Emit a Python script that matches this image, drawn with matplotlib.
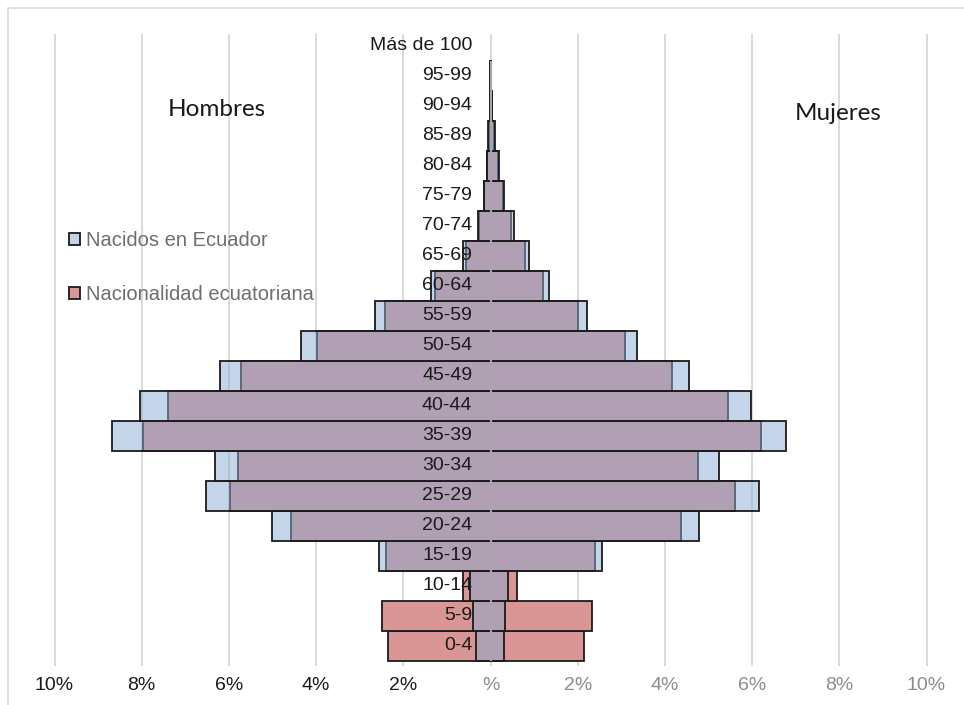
import matplotlib
matplotlib.use("Agg")
import matplotlib.pyplot as plt
from matplotlib.patches import Rectangle

# Age groups, bottom to top
age_groups = ['0-4', '5-9', '10-14', '15-19', '20-24', '25-29', '30-34',
              '35-39', '40-44', '45-49', '50-54', '55-59', '60-64', '65-69',
              '70-74', '75-79', '80-84', '85-89', '90-94', '95-99', 'Más de 100']

# Share of population (%) - born in Ecuador
men_born = [0.33, 0.40, 0.47, 2.55, 5.01, 6.53, 6.32, 8.67, 8.04, 6.21, 4.34,
            2.65, 1.37, 0.64, 0.28, 0.16, 0.09, 0.05, 0.02, 0.01, 0.0]
women_born = [0.31, 0.33, 0.41, 2.56, 4.78, 6.16, 5.25, 6.77, 5.97, 4.55, 3.37,
              2.22, 1.34, 0.88, 0.55, 0.32, 0.19, 0.10, 0.04, 0.015, 0.0]

# Share of population (%) - Ecuadorian nationality
men_nat = [2.35, 2.48, 0.63, 2.39, 4.58, 5.97, 5.78, 7.98, 7.40, 5.72, 3.99,
           2.42, 1.27, 0.57, 0.26, 0.15, 0.08, 0.04, 0.01, 0.005, 0.0]
women_nat = [2.15, 2.33, 0.61, 2.40, 4.36, 5.61, 4.77, 6.20, 5.45, 4.16, 3.08,
             2.00, 1.20, 0.78, 0.46, 0.29, 0.17, 0.09, 0.03, 0.01, 0.0]

tick_values = [-10, -8, -6, -4, -2, 0, 2, 4, 6, 8, 10]
tick_labels = ['10%', '8%', '6%', '4%', '2%', '%', '2%', '4%', '6%', '8%', '10%']

series_names = ['Nacidos en Ecuador', 'Nacionalidad ecuatoriana']

W, H = 964, 705
fig = plt.figure(figsize=(W / 100, H / 100), dpi=100)
fig.patch.set_facecolor('white')

# Outer chart frame (only left/top edges fall inside the canvas)
fig.add_artist(Rectangle((8 / W, -0.05), 1.2, (H - 8) / H + 0.05,
                         transform=fig.transFigure, fill=False,
                         edgecolor='#d9d9d9', linewidth=1.2))

px_per_unit = 43.6
center_px = 490.5
x_lo, x_hi = -10.5, 10.5
ax_left = center_px + x_lo * px_per_unit
ax_w = (x_hi - x_lo) * px_per_unit
y_top_px, y_bot_px = 34, 665.5
ax = fig.add_axes([ax_left / W, (H - y_bot_px) / H, ax_w / W, (y_bot_px - y_top_px) / H])
ax.set_xlim(x_lo, x_hi)
ax.set_ylim(-0.65, 20.4)

for s in ax.spines.values():
    s.set_visible(False)

# Vertical gridlines
for v in tick_values:
    ax.axvline(v, color='#d9d9d9', linewidth=1.4, zorder=0)

ypos = list(range(len(age_groups)))
red_face = '#d99694'
blue_face = (139 / 255, 171 / 255, 213 / 255, 0.5)
edge_color = '#1a1a1a'


def outline(values):
    # empty groups get no outline
    return [1.3 if v > 0 else 0 for v in values]


# Nationality bars underneath, birthplace bars translucent on top
red_m = ax.barh(ypos, [-v for v in men_nat], height=1.0, color=red_face,
                edgecolor=edge_color, linewidth=outline(men_nat), zorder=2)
ax.barh(ypos, women_nat, height=1.0, color=red_face,
        edgecolor=edge_color, linewidth=outline(women_nat), zorder=2)
blue_m = ax.barh(ypos, [-v for v in men_born], height=1.0, color=blue_face,
                 edgecolor=edge_color, linewidth=outline(men_born), zorder=3)
ax.barh(ypos, women_born, height=1.0, color=blue_face,
        edgecolor=edge_color, linewidth=outline(women_born), zorder=3)

# Central axis line
ax.vlines(0, -0.5, len(age_groups) - 1.5, color='#a6a6a6', linewidth=1.5, zorder=4)

# Age group labels
for y, lab in zip(ypos, age_groups):
    ax.text(-0.42, y, lab, ha='right', va='center', fontsize=14,
            family='Liberation Sans', color='#1a1a1a', zorder=5)

# Axis ticks
ax.set_yticks([])
ax.set_xticks(tick_values)
ax.set_xticklabels(tick_labels, family='Liberation Sans', fontsize=14)
ax.tick_params(axis='x', length=0, pad=8)
for lbl, v in zip(ax.get_xticklabels(), tick_values):
    lbl.set_color('#1a1a1a' if v < 0 else '#8c8c8c')

# Side titles
fig.text(217 / W, 1 - 110 / H, 'Hombres', ha='center', va='center',
         fontsize=17.5, family='Lato', color='#1a1a1a')
fig.text(838 / W, 1 - 113 / H, 'Mujeres', ha='center', va='center',
         fontsize=17.5, family='Lato', color='#1a1a1a')

# Legend
leg = ax.legend([blue_m, red_m], series_names, loc='upper left',
                bbox_to_anchor=(69 / W, 1 - 231 / H), bbox_transform=fig.transFigure,
                frameon=False, prop={'family': 'Liberation Sans', 'size': 14.5},
                handlelength=0.55, handleheight=0.55, handletextpad=0.3,
                labelspacing=1.75, borderpad=0, borderaxespad=0, labelcolor='#6e6e6e')

fig.savefig('out.png', dpi=100, facecolor='white')
